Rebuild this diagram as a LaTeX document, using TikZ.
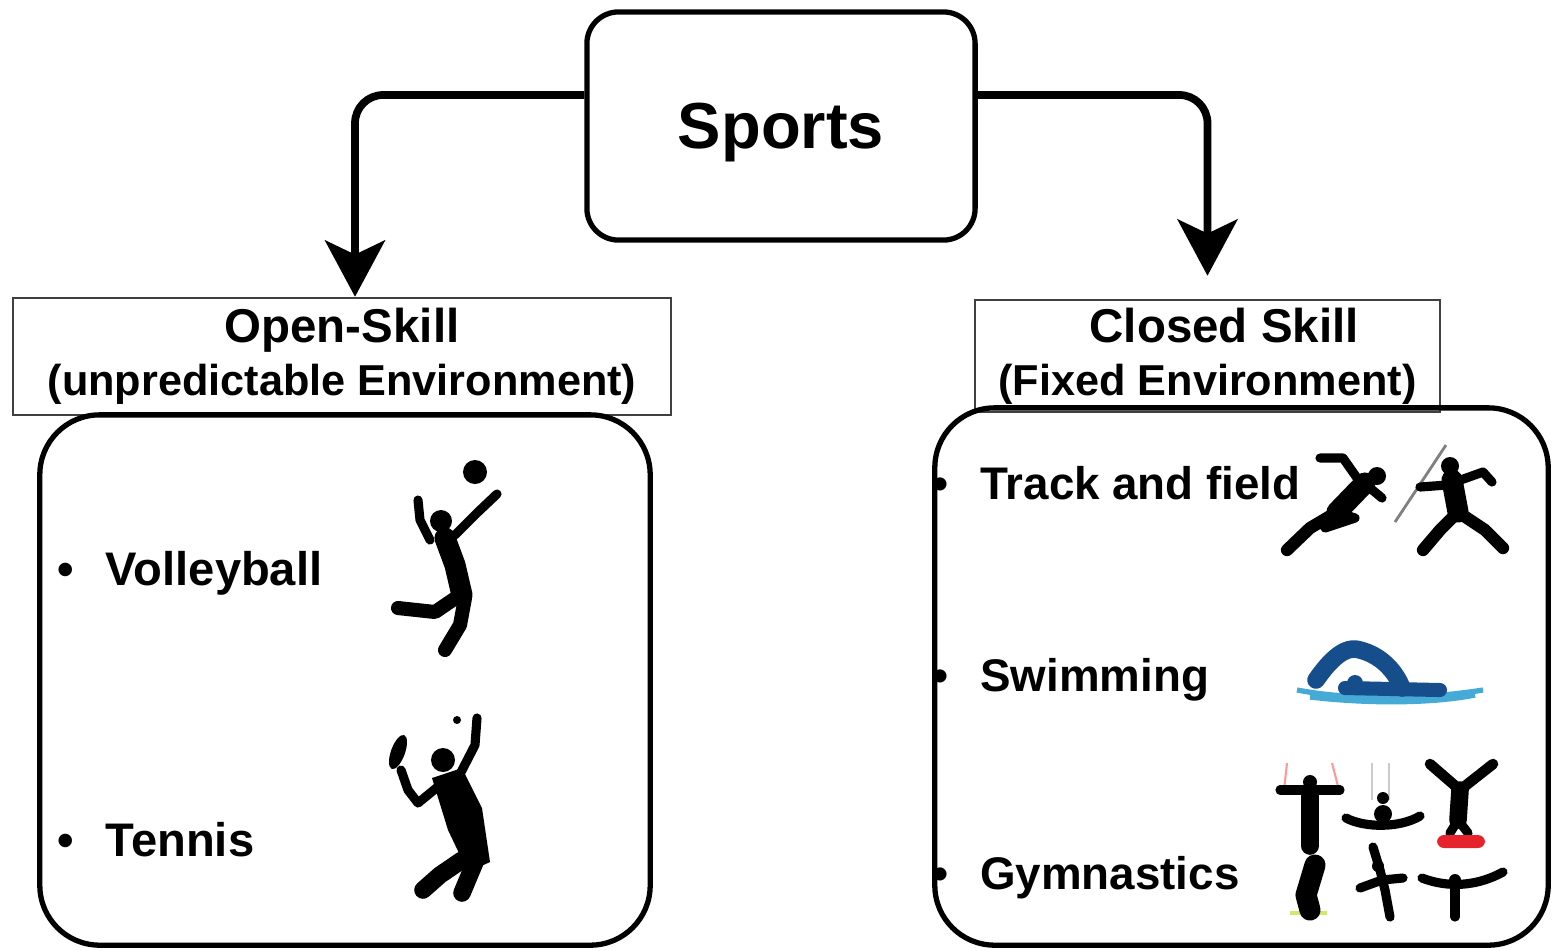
\documentclass[tikz,border=0pt]{standalone}
\usepackage{fontspec}
\setmainfont{Liberation Sans}
\usetikzlibrary{arrows.meta}

\definecolor{swimblue}{RGB}{22,78,140}
\definecolor{wavecyan}{RGB}{70,170,215}
\definecolor{beamred}{RGB}{230,35,45}

\tikzset{
  box/.style={draw, line width=1.5pt, rounded corners=9pt,
    minimum width=3.88cm, minimum height=2.28cm, text depth=0pt,
    font=\bfseries\fontsize{18.5}{22}\selectfont},
  tag/.style={draw=black!75, line width=0.7pt, align=center, inner sep=0pt,
    font=\bfseries\fontsize{12.3}{15}\selectfont},
  panel/.style={draw, line width=1.5pt, rounded corners=17pt},
  item/.style={anchor=west, inner sep=0pt,
    font=\bfseries\fontsize{13}{15}\selectfont},
  flow/.style={line width=2.2pt, rounded corners=8pt,
    -{Stealth[length=16pt, width=17pt, inset=4pt]}},
  limb/.style={line width=2.6pt, line cap=round, line join=round},
  torso/.style={line width=6pt, line cap=round, line join=round},
}

\begin{document}
\begin{tikzpicture}[x=0.01cm, y=-0.01cm]
\useasboundingbox (0,0) rectangle (1557,950);

% top of the tree
\node[box] (sports) at (781,126) {Sports};

% the two kinds of skill
\node[tag, minimum width=6.58cm, minimum height=1.17cm] (open) at (342,356.5)
  {{\fontsize{13.5}{16}\selectfont Open-Skill}\\(unpredictable Environment)};
\node[tag, minimum width=4.65cm, minimum height=1.12cm] (closed) at (1207.5,356)
  {{\fontsize{13.5}{16}\selectfont\hspace*{9.5pt}Closed Skill}\\(Fixed Environment)};

\node[panel, minimum width=6.1cm, minimum height=5.3cm] (openpanel) at (345,680) {};
\node[panel, minimum width=6.13cm, minimum height=5.37cm] (closedpanel) at (1241.5,676.5) {};

\draw[flow] ([yshift=0.31cm]sports.west) -| ([xshift=0.13cm]open.north);
\draw[flow, shorten >=0.23cm] ([yshift=0.31cm]sports.east) -| (closed.north);

% open skill sports
\node[item, font=\bfseries\fontsize{13.4}{15}\selectfont] (volley) at (57,573) {•\hspace{9pt}Volleyball};
\node[item, font=\bfseries\fontsize{13.4}{15}\selectfont] (tennis) at (57,840) {•\hspace{9pt}Tennis};

% closed skill sports
\node[item] (track) at (932,483) {•\hspace{9pt}Track and field};
\node[item] (swim) at (932,680) {•\hspace{9pt}Swimming};
\node[item] (gym) at (932,878) {•\hspace{9pt}Gymnastics};

% volleyball player
\fill (475,472) circle (12);
\fill (441,521) circle (11);
\draw[limb] (430,540) -- (420,520) -- (418,500);
\draw[limb] (455,535) -- (478,512) -- (497,494);
\draw[torso] (445,538) -- (455,565) -- (462,595);
\draw[limb, line width=4pt] (460,595) -- (435,612) -- (398,608);
\draw[limb, line width=4pt] (465,598) -- (460,625) -- (445,650);

% tennis player
\fill (457,720) circle (4);
\fill[rotate around={-20:(398,752)}] (398,752) ellipse (7 and 18);
\draw[limb] (401,770) -- (408,790) -- (418,803) -- (440,785);
\fill (443,760) circle (12);
\draw[limb] (458,778) -- (475,745) -- (477,718);
\fill (432,778) -- (462,768) -- (482,808) -- (490,862) -- (468,872) -- (448,830) -- cycle;
\draw[limb, line width=5pt] (462,860) -- (440,875) -- (423,890);
\draw[limb, line width=5pt] (475,862) -- (462,893);

% sprinter
\fill (1377,476) circle (9);
\draw[torso] (1365,483) -- (1337,512);
\draw[limb] (1362,485) -- (1343,458) -- (1320,458);
\draw[limb] (1370,488) -- (1382,498);
\draw[limb] (1337,512) -- (1355,518) -- (1325,528);
\draw[limb, line width=3.5pt] (1337,512) -- (1310,528) -- (1287,550);

% javelin thrower
\draw[gray, line width=0.8pt] (1395,522) -- (1446,445);
\fill (1450,466) circle (9);
\draw[torso] (1452,480) -- (1458,512);
\draw[limb] (1447,485) -- (1420,487);
\draw[limb] (1455,482) -- (1483,472) -- (1492,482);
\draw[limb, line width=3.5pt] (1458,512) -- (1440,530) -- (1423,550);
\draw[limb, line width=3.5pt] (1458,512) -- (1485,530) -- (1503,548);

% swimmer
\draw[wavecyan, line width=1.5pt] (1297,690) .. controls (1350,700) and (1420,700) .. (1483,690);
\draw[wavecyan, line width=1.5pt] (1310,697) .. controls (1380,705) and (1440,702) .. (1475,695);
\draw[limb, swimblue, line width=5pt] (1316,680) .. controls (1330,660) and (1345,645) .. (1360,650)
  .. controls (1380,655) and (1395,670) .. (1402,688);
\draw[swimblue, line width=4pt, line cap=round] (1345,688) -- (1440,690);
\fill[swimblue] (1355,683) circle (8);

% gymnasts
\draw[red!40, line width=0.6pt] (1287,763) -- (1284,790) (1332,763) -- (1339,790);
\draw[limb] (1280,790) -- (1340,790);
\fill (1310,782) circle (7);
\draw[torso, line width=5pt] (1310,792) -- (1310,846);

\draw[gray!40, line width=0.6pt] (1372,763) -- (1372,800) (1389,763) -- (1389,800);
\fill (1383,798) circle (6);
\fill (1383,814) circle (9);
\draw[limb] (1346,818) .. controls (1365,828) and (1400,828) .. (1420,816);

\draw[limb, line width=3pt] (1430,764) -- (1460,790) -- (1493,764);
\draw[torso, line width=5pt] (1460,790) -- (1458,820);
\draw[limb] (1450,833) -- (1458,820) -- (1468,833);
\fill[beamred, rounded corners=2pt] (1437,835) rectangle (1485,848);

\draw[yellow!70!green!60, line width=1pt] (1290,913) -- (1327,913);
\draw[torso] (1315,865) -- (1306,895) -- (1310,910);

\draw[limb] (1373,847) -- (1380,870) -- (1385,890) -- (1390,917);
\draw[limb] (1360,888) -- (1382,880) -- (1403,878);
\fill (1378,866) circle (6);

\draw[limb] (1422,878) .. controls (1440,885) and (1470,890) .. (1503,872);
\draw[limb] (1455,888) -- (1455,917);
\fill (1455,880) circle (6);
\end{tikzpicture}
\end{document}
